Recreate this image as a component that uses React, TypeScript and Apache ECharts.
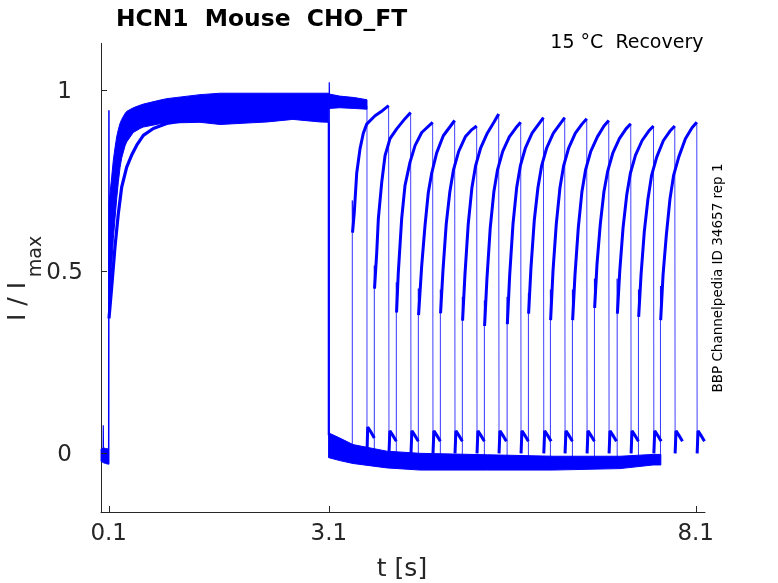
import React, { useEffect, useRef } from "react";
import * as echarts from "echarts";

const BLUE = "#0000ff";
const AXIS = "#262626";
const FONT = '"DejaVu Sans", "Liberation Sans", sans-serif';

// axis ranges and tick labels
const X_MIN = -0.005;
const X_MAX = 8.227;
const Y_MIN = -0.1613;
const Y_MAX = 1.1272;
const xTicks = [0.1, 3.1, 8.1];
const yTicks = [0, 0.5, 1];

// holding level before the first pulse (noise envelope)
const holdT = [-0.004, 0.03, 0.06, 0.098];
const holdLo = [-0.022, -0.026, -0.028, -0.03];
const holdHi = [0.012, 0.015, 0.013, 0.012];
const holdSpike = [[0.024, 0.0], [0.026, 0.077], [0.029, -0.01]];

// activation during the conditioning pulse (envelope of the fast traces)
const actT = [0.104, 0.141, 0.163, 0.186, 0.209, 0.231, 0.254, 0.277, 0.322, 0.345, 0.435, 0.527, 0.572, 0.8, 0.89, 1.344, 1.62, 2.26, 2.61, 2.98, 3.1];
const actHi = [0.687, 0.76, 0.806, 0.84, 0.87, 0.89, 0.907, 0.918, 0.934, 0.94, 0.95, 0.957, 0.96, 0.971, 0.975, 0.986, 0.99, 0.99, 0.99, 0.99, 0.99];
const actLo = [0.4, 0.513, 0.59, 0.645, 0.7, 0.745, 0.785, 0.812, 0.845, 0.856, 0.882, 0.893, 0.897, 0.906, 0.908, 0.91, 0.904, 0.911, 0.918, 0.911, 0.91];

// slowly activating trace
const slowTrace = [[0.104, 0.371], [0.141, 0.458], [0.186, 0.568], [0.231, 0.659], [0.277, 0.732], [0.345, 0.787], [0.413, 0.82], [0.482, 0.847], [0.572, 0.874], [0.708, 0.893], [0.89, 0.907], [1.163, 0.916], [1.4, 0.92]];
const onsetSpike = [[0.1, -0.03], [0.103, 0.943], [0.106, 0.4]];

// trace with no gap between the pulses
const trace1T = [3.1, 3.25, 3.45, 3.62];
const trace1Lo = [0.948, 0.95, 0.948, 0.946];
const trace1Hi = [0.988, 0.982, 0.978, 0.972];
const offsetSpike = [[3.1, -0.012], [3.106, 1.02], [3.11, 0.96]];
const offsetDrop = [[3.1, 0.91], [3.1, 0.05]];
const trace1Drop = [[3.62, 0.955], [3.62, 0.0]];
const trace1Tail = [[3.62, 0.0], [3.63, 0.072], [3.67, 0.06], [3.72, 0.042]];

// holding level between the pulses (noise envelope)
const baseT = [3.1, 3.25, 3.43, 3.89, 4.34, 5.26, 6.16, 7.07, 7.52, 7.625];
const baseHi = [0.056, 0.042, 0.024, 0.006, 0.0, -0.004, -0.008, -0.008, -0.003, -0.003];
const baseLo = [-0.012, -0.02, -0.028, -0.04, -0.046, -0.046, -0.046, -0.042, -0.032, -0.032];

// test pulses
const recStart = [3.42, 3.72, 4.02, 4.32, 4.62, 4.92, 5.22, 5.53, 5.82, 6.12, 6.42, 6.72, 7.03, 7.32, 7.62];
const recSpike = [0.695, 0.516, 0.47, 0.453, 0.45, 0.43, 0.42, 0.43, 0.44, 0.45, 0.45, 0.48, 0.48, 0.45, 0.46];
const recEnd = [3.92, 4.22, 4.52, 4.82, 5.12, 5.42, 5.72, 6.03, 6.32, 6.62, 6.92, 7.22, 7.53, 7.82, 8.12];

const rec2 = [[3.423, 0.607], [3.447, 0.662], [3.48, 0.77], [3.525, 0.837], [3.57, 0.88], [3.616, 0.905], [3.73, 0.928], [3.83, 0.942], [3.915, 0.956]];
const rec3 = [[3.723, 0.453], [3.753, 0.552], [3.775, 0.645], [3.821, 0.745], [3.866, 0.818], [3.934, 0.865], [4.025, 0.892], [4.138, 0.92], [4.215, 0.937]];
const rec4 = [[4.023, 0.387], [4.047, 0.497], [4.093, 0.645], [4.138, 0.736], [4.206, 0.8], [4.275, 0.846], [4.366, 0.882], [4.515, 0.91]];
const rec5 = [[4.323, 0.38], [4.366, 0.516], [4.411, 0.626], [4.456, 0.717], [4.502, 0.77], [4.57, 0.826], [4.66, 0.873], [4.815, 0.915]];
const rec6 = [[4.623, 0.385], [4.655, 0.5], [4.7, 0.63], [4.75, 0.72], [4.8, 0.78], [4.87, 0.83], [4.96, 0.87], [5.05, 0.89], [5.115, 0.9]];
const rec7 = [[4.923, 0.365], [4.955, 0.49], [5.0, 0.63], [5.05, 0.73], [5.1, 0.79], [5.17, 0.84], [5.26, 0.88], [5.35, 0.91], [5.415, 0.933]];
const rec8 = [[5.223, 0.35], [5.255, 0.48], [5.3, 0.62], [5.35, 0.72], [5.4, 0.78], [5.47, 0.83], [5.56, 0.87], [5.65, 0.895], [5.715, 0.91]];
const rec9 = [[5.533, 0.355], [5.565, 0.49], [5.61, 0.63], [5.66, 0.73], [5.71, 0.79], [5.78, 0.84], [5.87, 0.88], [5.96, 0.905], [6.025, 0.923]];
const rec10 = [[5.823, 0.384], [5.855, 0.51], [5.9, 0.64], [5.95, 0.73], [6.0, 0.79], [6.07, 0.84], [6.16, 0.88], [6.25, 0.905], [6.315, 0.923]];
const rec11 = [[6.123, 0.366], [6.155, 0.5], [6.2, 0.63], [6.25, 0.73], [6.3, 0.79], [6.37, 0.84], [6.46, 0.88], [6.55, 0.905], [6.615, 0.92]];
const rec12 = [[6.423, 0.366], [6.455, 0.49], [6.5, 0.62], [6.55, 0.72], [6.6, 0.78], [6.67, 0.83], [6.76, 0.87], [6.85, 0.9], [6.915, 0.915]];
const rec13 = [[6.723, 0.4], [6.755, 0.52], [6.8, 0.63], [6.85, 0.72], [6.9, 0.775], [6.97, 0.825], [7.06, 0.865], [7.15, 0.892], [7.215, 0.906]];
const rec14 = [[7.033, 0.384], [7.065, 0.5], [7.11, 0.62], [7.16, 0.71], [7.21, 0.77], [7.28, 0.82], [7.37, 0.86], [7.46, 0.886], [7.525, 0.9]];
const rec15 = [[7.323, 0.375], [7.355, 0.49], [7.4, 0.61], [7.45, 0.7], [7.5, 0.765], [7.57, 0.815], [7.66, 0.86], [7.75, 0.886], [7.815, 0.9]];
const rec16 = [[7.623, 0.366], [7.655, 0.49], [7.7, 0.6], [7.75, 0.7], [7.8, 0.765], [7.87, 0.815], [7.96, 0.865], [8.05, 0.895], [8.115, 0.91]];
const recCurves = [rec2, rec3, rec4, rec5, rec6, rec7, rec8, rec9, rec10, rec11, rec12, rec13, rec14, rec15, rec16];

// tail current after each test pulse (offset in s, value)
const tailDt = [0, 0.012, 0.05, 0.1];
const tailV = [0.0, 0.062, 0.05, 0.033];
const preLevel = -0.02;

const lineSeries = (data: number[][], width: number, opacity = 1) => ({
  type: "line",
  data,
  showSymbol: false,
  symbol: "none",
  silent: true,
  clip: false,
  lineStyle: { color: BLUE, width, opacity },
  z: 3,
});

const bandSeries = (t: number[], lo: number[], hi: number[]) => ({
  type: "custom",
  silent: true,
  data: t.map((v, i) => [v, lo[i], hi[i]]),
  encode: { x: 0, y: [1, 2] },
  z: 2,
  renderItem: (params: any, api: any) => {
    if (params.dataIndex !== 0) return null;
    const pts: number[][] = [];
    for (let i = 0; i < t.length; i++) pts.push(api.coord([t[i], lo[i]]));
    for (let i = t.length - 1; i >= 0; i--) pts.push(api.coord([t[i], hi[i]]));
    return {
      type: "polygon",
      shape: { points: pts },
      style: { fill: BLUE, stroke: BLUE, lineWidth: 1 },
    };
  },
});

// inward tick marks placed through the axis scales
const tickSeries = {
  type: "custom",
  silent: true,
  data: [[X_MIN, Y_MIN]],
  encode: { x: 0, y: 1 },
  z: 5,
  renderItem: (params: any, api: any) => {
    const TL = 6;
    const children: any[] = [];
    xTicks.forEach((v) => {
      const p = api.coord([v, Y_MIN]);
      const x = Math.round(p[0]) + 0.5;
      children.push({ type: "line", shape: { x1: x, y1: p[1], x2: x, y2: p[1] - TL }, style: { stroke: AXIS, lineWidth: 1 } });
    });
    yTicks.forEach((v) => {
      const p = api.coord([X_MIN, v]);
      const y = Math.round(p[1]) + 0.5;
      children.push({ type: "line", shape: { x1: p[0], y1: y, x2: p[0] + TL, y2: y }, style: { stroke: AXIS, lineWidth: 1 } });
    });
    return { type: "group", children };
  },
};

export default function App() {
  const ref = useRef<HTMLDivElement>(null);

  useEffect(() => {
    if (!ref.current) return;
    const chart = echarts.init(ref.current, undefined, { renderer: "svg" });

    const series: any[] = [];
    series.push(bandSeries(holdT, holdLo, holdHi));
    series.push(lineSeries(holdSpike, 1.2));
    series.push(lineSeries(onsetSpike, 1.5));
    series.push(bandSeries(actT, actLo, actHi));
    series.push(lineSeries(slowTrace, 3.2));
    series.push(bandSeries(trace1T, trace1Lo, trace1Hi));
    series.push(lineSeries(offsetSpike, 1.2));
    series.push(lineSeries(offsetDrop, 2.2));
    series.push(lineSeries(trace1Drop, 1, 0.75));
    series.push(lineSeries(trace1Tail, 3));
    series.push(bandSeries(baseT, baseLo, baseHi));

    recCurves.forEach((curve, k) => {
      const s = recStart[k];
      const e = recEnd[k];
      const first = curve[0];
      const last = curve[curve.length - 1];
      series.push(lineSeries([[s, preLevel], [s, recSpike[k]], first], 1, 0.8));
      series.push(lineSeries(curve, 3));
      series.push(lineSeries([last, [e, tailV[0]]], 1, 0.75));
      series.push(lineSeries(tailDt.map((d, i) => [e + d, tailV[i]]), 3));
    });
    series.push(tickSeries);

    const axisLine = { show: true, onZero: false, lineStyle: { color: AXIS, width: 1 } };

    chart.setOption({
      animation: false,
      grid: { left: 101, top: 43.3, width: 604, height: 468.7, containLabel: false },
      xAxis: {
        type: "value",
        min: X_MIN,
        max: X_MAX,
        axisLine,
        axisTick: { show: false },
        axisLabel: {
          customValues: xTicks,
          formatter: (v: number) => v.toFixed(1),
          fontSize: 23,
          fontFamily: FONT,
          color: AXIS,
          margin: 8,
        },
        splitLine: { show: false },
      },
      yAxis: {
        type: "value",
        min: Y_MIN,
        max: Y_MAX,
        axisLine,
        axisTick: { show: false },
        axisLabel: {
          customValues: yTicks,
          formatter: (v: number) => String(v),
          fontSize: 23,
          fontFamily: FONT,
          color: AXIS,
          align: "center",
          margin: 36.5,
        },
        splitLine: { show: false },
      },
      graphic: [
        {
          type: "text",
          x: 261.5,
          y: 17.5,
          silent: true,
          style: { text: "HCN1  Mouse  CHO_FT", fontSize: 23.4, fontWeight: "bold", fontFamily: FONT, fill: "#000", align: "center", verticalAlign: "middle" },
        },
        {
          type: "text",
          x: 703.5,
          y: 40.5,
          silent: true,
          style: { text: "15 °C  Recovery", fontSize: 19, fontFamily: FONT, fill: "#000", align: "right", verticalAlign: "middle" },
        },
        {
          type: "text",
          x: 716.7,
          y: 278,
          rotation: Math.PI / 2,
          silent: true,
          style: { text: "BBP Channelpedia ID 34657 rep 1", fontSize: 13.5, fontFamily: FONT, fill: "#000", align: "center", verticalAlign: "middle" },
        },
        {
          type: "text",
          x: 402,
          y: 567,
          silent: true,
          style: { text: "t [s]", fontSize: 25, fontFamily: FONT, fill: AXIS, align: "center", verticalAlign: "middle" },
        },
        {
          type: "text",
          x: 16.5,
          y: 301.5,
          rotation: Math.PI / 2,
          silent: true,
          style: { text: "I / I", fontSize: 25, fontFamily: FONT, fill: AXIS, align: "center", verticalAlign: "middle" },
        },
        {
          type: "text",
          x: 33.5,
          y: 256.5,
          rotation: Math.PI / 2,
          silent: true,
          style: { text: "max", fontSize: 19, fontFamily: FONT, fill: AXIS, align: "center", verticalAlign: "middle" },
        },
      ],
      series,
    });

    return () => chart.dispose();
  }, []);

  return <div ref={ref} style={{ position: "fixed", left: 0, top: 0, width: 778, height: 583 }} />;
}
